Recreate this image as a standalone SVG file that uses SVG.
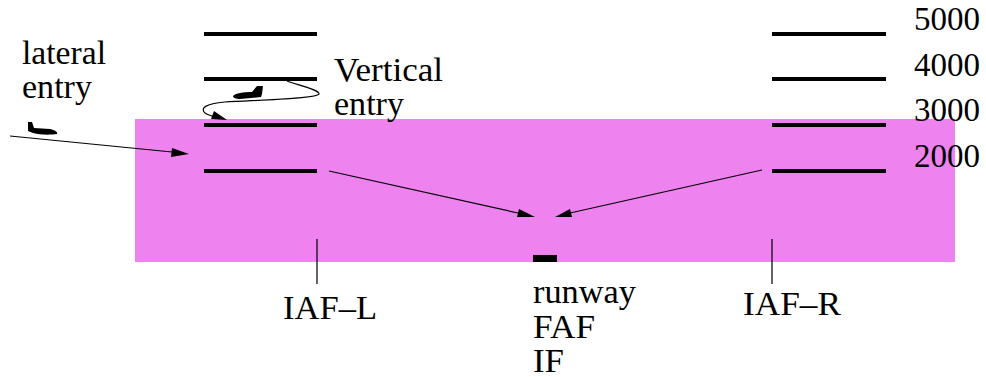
<svg xmlns="http://www.w3.org/2000/svg" width="986" height="377" viewBox="0 0 986 377">
<style>
text{font-family:"Liberation Serif","Times New Roman",serif;font-size:34.500px;fill:#000}
text.num{font-size:33px}
.lvl{stroke:#000;stroke-width:4;fill:none}
.thin{stroke:#000;stroke-width:1.200;fill:none}
.head{fill:#000;stroke:none}
</style>
<rect width="986" height="377" fill="#fff"/>
<rect id="zone" x="135" y="119" width="820" height="143" fill="#ee82ee"/>
<g id="levels-left">
<path class="lvl" d="M204 34H317M204 79H317M204 125H317M204 171H317"/>
</g>
<g id="levels-right">
<path class="lvl" d="M772 34H886M772 79H886M772 125H886M772 171H886"/>
</g>
<g id="connectors">
<path class="thin" d="M10 136L172 152"/>
<polygon class="head" points="189,154 172,148 171,157"/>
<path class="thin" d="M329 171L518 213"/>
<polygon class="head" points="535,217 519,209 517,217"/>
<path class="thin" d="M762 170L570 213"/>
<polygon class="head" points="555,217 570,209 572,217"/>
<path class="thin" d="M287 81C298 85 320 90 319 94C316 99 260 100 225 102C205 104 200 108 205 113C208 115 211 116 216 117"/>
<polygon class="head" points="227,120 214,111 211,119"/>
<path class="thin" d="M317 239V284M772 239V284"/>
</g>
<g id="runway"><rect x="533" y="255" width="24" height="7" fill="#000"/></g>
<g id="plane-vertical">
<path d="M233 96C236 93 243 92 252 92L257 86H263L262 94L261 97L240 99C236 99 233 98 233 96Z" fill="#000"/>
</g>
<g id="plane-lateral">
<path d="M28 122H32L34 128L50 129C55 130 58 132 57 134C50 135 40 135 33 133L28 131Z" fill="#000"/>
</g>
<g id="labels">
<text x="22" y="64" textLength="84" lengthAdjust="spacingAndGlyphs">lateral</text>
<text x="22" y="98" textLength="70" lengthAdjust="spacingAndGlyphs">entry</text>
<text x="334" y="81" textLength="109" lengthAdjust="spacingAndGlyphs">Vertical</text>
<text x="334" y="115" textLength="70" lengthAdjust="spacingAndGlyphs">entry</text>
<text class="num" x="914" y="30">5000</text>
<text class="num" x="914" y="76">4000</text>
<text class="num" x="914" y="121">3000</text>
<text class="num" x="914" y="167">2000</text>
<text x="283" y="319" textLength="94" lengthAdjust="spacingAndGlyphs">IAF–L</text>
<text x="533" y="303" textLength="103" lengthAdjust="spacingAndGlyphs">runway</text>
<text x="533" y="338" textLength="62" lengthAdjust="spacingAndGlyphs">FAF</text>
<text x="533" y="372" textLength="31" lengthAdjust="spacingAndGlyphs">IF</text>
<text x="743" y="315" textLength="98" lengthAdjust="spacingAndGlyphs">IAF–R</text>
</g>
</svg>
